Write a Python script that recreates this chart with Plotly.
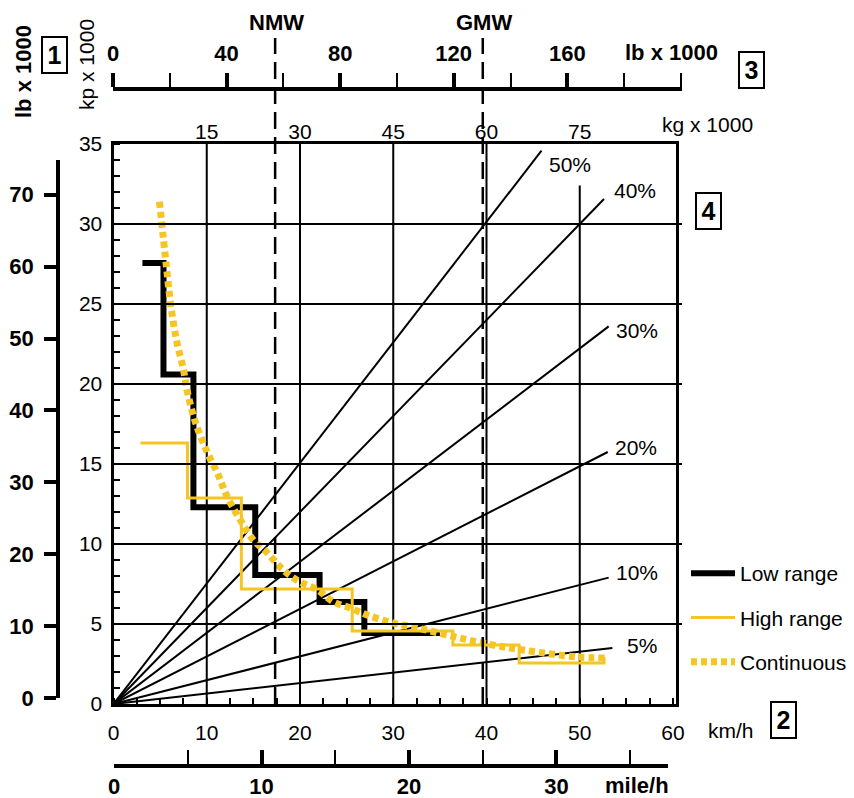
import plotly.graph_objects as go

W, H = 854, 798

# ---------------- data ----------------
speed_ticks = [0, 10, 20, 30, 40, 50, 60]            # km/h
force_ticks = [0, 5, 10, 15, 20, 25, 30, 35]         # kp x 1000
kg_ticks = [15, 30, 45, 60, 75]                      # kg x 1000
lb_top_ticks = [0, 40, 80, 120, 160]                 # lb x 1000 (weight)
lb_left_ticks = [0, 10, 20, 30, 40, 50, 60, 70]      # lb x 1000 (force)
mph_ticks = [0, 10, 20, 30]                          # mile/h

v_grid_x = [10, 20, 30, 40, 50]
v_grid_top = [35, 35, 35, 35, 32.4]

nmw_kg = 26.0
gmw_kg = 59.4

low_x = [3.1, 5.36, 8.57, 15.2, 22.1, 26.9, 35.0]
low_y = [27.56, 20.6, 12.3, 8.06, 6.375, 4.44, 4.44]

high_x = [2.89, 7.93, 13.71, 25.6, 36.4, 43.5, 52.6]
high_y = [16.31, 12.875, 7.19, 4.56, 3.69, 2.56, 2.94]

cont_x = [4.93, 5.68, 6.11, 6.75, 7.5, 7.93, 8.79, 10.07, 11.14, 12.2, 13.6, 15.0,
          16.5, 18.2, 20.0, 21.9, 23.6, 25.4, 27.2, 30.0, 32.6, 35.8, 39.6, 43.9,
          49.7, 52.7]
cont_y = [31.4, 27.3, 25.06, 22.75, 20.9, 19.5, 17.6, 15.7, 14.44, 12.94, 11.5, 10.25,
          9.44, 8.375, 7.625, 7.125, 6.375, 6.0, 5.56, 5.06, 4.75, 4.31, 3.81, 3.375,
          2.94, 2.875]

grade_labels = ["50%", "40%", "30%", "20%", "10%", "5%"]
grade_end_x = [45.9, 52.6, 53.1, 53.0, 53.1, 53.5]
grade_end_y = [34.58, 31.56, 23.6, 15.75, 7.9, 3.5]

# ---------------- styling helpers ----------------
def px2x(p):
    return p / W

def px2y(p):
    return 1 - p / H

FONT = "Liberation Sans, Arial, Helvetica, sans-serif"
YEL = "#F5C523"
REG = 21
BOLD = 22

label_shift = [(5, -14), (8, 9), (5, -4), (5, 5), (5, 5), (13, 3)]

fig = go.Figure()

# grade lines
for lab, ex, ey in zip(grade_labels, grade_end_x, grade_end_y):
    fig.add_trace(go.Scatter(x=[0, ex], y=[0, ey], mode="lines",
                             line=dict(color="black", width=2),
                             showlegend=False, hoverinfo="skip"))

fig.add_trace(go.Scatter(x=low_x, y=low_y, mode="lines", name="Low range",
                         line=dict(color="black", width=6, shape="hv"),
                         legendgroup="a"))
fig.add_trace(go.Scatter(x=high_x, y=high_y, mode="lines", name="High range",
                         line=dict(color=YEL, width=3, shape="hv"),
                         legendgroup="b"))
fig.add_trace(go.Scatter(x=cont_x, y=cont_y, mode="lines", name="Continuous",
                         line=dict(color=YEL, width=7, dash="6px,4px", shape="spline"),
                         legendgroup="c"))

# dummy traces so secondary axes are drawn
dummy = dict(mode="markers", marker=dict(opacity=0, size=1), showlegend=False, hoverinfo="skip")
fig.add_trace(go.Scatter(x=[kg_ticks[0]], y=[1], xaxis="x2", yaxis="y", **dummy))
fig.add_trace(go.Scatter(x=[lb_top_ticks[1]], y=[1], xaxis="x3", yaxis="y", **dummy))
fig.add_trace(go.Scatter(x=[1], y=[lb_left_ticks[1]], xaxis="x", yaxis="y2", **dummy))
fig.add_trace(go.Scatter(x=[mph_ticks[1]], y=[1], xaxis="x4", yaxis="y", **dummy))

shapes = []
for gx, gt in zip(v_grid_x, v_grid_top):
    shapes.append(dict(type="line", xref="x", yref="y", x0=gx, x1=gx, y0=0, y1=gt,
                       line=dict(color="black", width=2), layer="below"))
for mk in [nmw_kg, gmw_kg]:
    shapes.append(dict(type="line", xref="x2", yref="paper", x0=mk, x1=mk,
                       y0=px2y(704), y1=px2y(38),
                       line=dict(color="black", width=2.5, dash="17px,8px"), layer="above"))

ann = []
def add_text(text, xp, yp, size=REG, bold=False, angle=0, **kw):
    ann.append(dict(text=text, x=px2x(xp), y=px2y(yp), xref="paper", yref="paper",
                    showarrow=False, textangle=angle,
                    font=dict(family=FONT, size=size, color="black",
                              weight="bold" if bold else "normal"),
                    xanchor="center", yanchor="middle", **kw))

add_text("NMW", 276, 22, BOLD, True)
add_text("GMW", 484, 22, BOLD, True)
add_text("lb x 1000", 671, 53, BOLD, True)
add_text("kg x 1000", 707, 124, REG)
add_text("kp x 1000", 87, 65, REG, angle=-90)
add_text("lb x 1000", 23, 72, BOLD, True, angle=-90)
add_text("km/h", 731, 730, REG)
add_text("mile/h", 637, 785, BOLD, True)
for t, bx, by in [("1", 54, 55), ("3", 751, 70), ("4", 708, 211), ("2", 783, 720)]:
    add_text(t, bx, by, 25, True, bordercolor="black", borderwidth=2, borderpad=1,
             width=21, height=32)

for lab, ex, ey, (sx, sy) in zip(grade_labels, grade_end_x, grade_end_y, label_shift):
    ann.append(dict(text=lab, x=ex, y=ey, xref="x", yref="y", showarrow=False,
                    xanchor="left", yanchor="middle", xshift=sx, yshift=sy,
                    font=dict(family=FONT, size=REG, color="black")))

common = dict(showgrid=False, zeroline=False, automargin=False, color="black")

fig.update_layout(
    width=W, height=H,
    margin=dict(l=0, r=0, t=0, b=0),
    paper_bgcolor="white", plot_bgcolor="rgba(0,0,0,0)",
    font=dict(family=FONT, size=REG, color="black"),
    shapes=shapes, annotations=ann,
    showlegend=True,
    legend=dict(x=px2x(686), y=px2y(553), xanchor="left", yanchor="top",
                bgcolor="rgba(0,0,0,0)", font=dict(family=FONT, size=REG, color="black"),
                tracegroupgap=14, itemwidth=44),
    xaxis=dict(domain=[px2x(113.5), px2x(675.8)], range=[0, 60.3],
               tickvals=speed_ticks, ticks="", showline=True, linewidth=3,
               linecolor="black", mirror=True, tickfont=dict(size=REG),
               ticklabelstandoff=8,
               minor=dict(dtick=2.5, tick0=0, ticks="inside", ticklen=6, tickwidth=2,
                          tickcolor="black", showgrid=False),
               **common),
    yaxis=dict(domain=[px2y(704), px2y(144)], range=[0, 35],
               tickvals=force_ticks, ticks="", showline=True, linewidth=3,
               linecolor="black", mirror=True, tickfont=dict(size=REG),
               ticklabelstandoff=4,
               minor=dict(dtick=1, tick0=0, ticks="inside", ticklen=6, tickwidth=2,
                          tickcolor="black", showgrid=False),
               showgrid=True, gridcolor="black", gridwidth=2,
               zeroline=False, automargin=False, color="black"),
    xaxis2=dict(overlaying="x", side="top", anchor="y", range=[0, 90.45],
                tickvals=kg_ticks, ticks="", showline=False, tickfont=dict(size=REG),
                ticklabelstandoff=0, **common),
    xaxis3=dict(anchor="free", position=px2y(89), side="top",
                domain=[px2x(113), px2x(682)], range=[0, 200.4],
                tickvals=lb_top_ticks, ticks="outside", ticklen=14, tickwidth=4,
                tickcolor="black", showline=True, linewidth=3.5, linecolor="black",
                tickfont=dict(size=BOLD, weight="bold"), ticklabelstandoff=3,
                minor=dict(dtick=20, tick0=0, ticks="outside", ticklen=14, tickwidth=2,
                           tickcolor="black", showgrid=False),
                **common),
    xaxis4=dict(anchor="free", position=px2y(766), side="bottom",
                domain=[px2x(114), px2x(668)], range=[0, 37.56],
                tickvals=mph_ticks, ticks="inside", ticklen=14, tickwidth=4,
                tickcolor="black", showline=True, linewidth=3.5, linecolor="black",
                tickfont=dict(size=BOLD, weight="bold"), ticklabelstandoff=0,
                minor=dict(dtick=5, tick0=0, ticks="inside", ticklen=14, tickwidth=2,
                           tickcolor="black", showgrid=False),
                **common),
    yaxis2=dict(anchor="free", position=px2x(58), side="left",
                domain=[px2y(698), px2y(160)], range=[0, 74.83],
                tickvals=lb_left_ticks, ticks="outside", ticklen=12, tickwidth=3.5,
                tickcolor="black", showline=True, linewidth=3.5, linecolor="black",
                tickfont=dict(size=BOLD, weight="bold"), ticklabelstandoff=6,
                **common),
)

fig.write_html("out.html", config={"displayModeBar": False},
               post_script="document.body.style.margin='0';document.body.style.overflow='hidden';")
